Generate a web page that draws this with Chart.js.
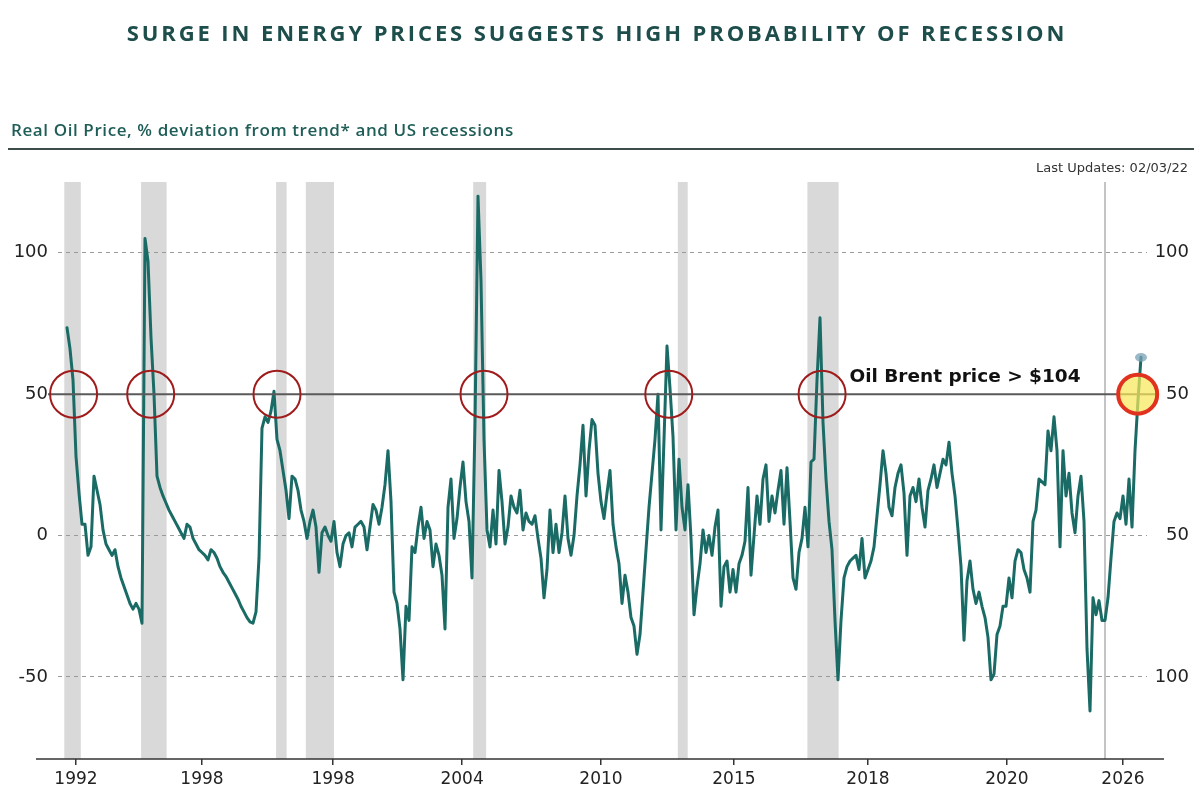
<!DOCTYPE html>
<html><head><meta charset="utf-8">
<script src="https://cdn.jsdelivr.net/npm/chart.js@4.4.1/dist/chart.umd.min.js"></script>
<style>html,body{margin:0;padding:0;background:#fff;}canvas{display:block}</style>
</head><body>
<canvas id="c" width="1200" height="800"></canvas>
<script>
const titleText = 'SURGE IN ENERGY PRICES SUGGESTS HIGH PROBABILITY OF RECESSION';
const subtitleText = 'Real Oil Price, % deviation from trend* and US recessions';
const updateText = 'Last Updates: 02/03/22';
const annotationText = 'Oil Brent price > $104';

// Real oil price, % deviation from trend (one value per period)
const oilDeviation = [
 73.5,66,55,28,15,4,4,-7,-4,21, 16,11,2,-3,-5,-7,-5,-11,-15,-18,
 -21,-24,-26,-24,-26,-31,105,97,70,50, 21,17,14,11.5,9,7,5,3,1,-1,
 4,3,-1,-3,-5,-6,-7,-8.6,-5,-6, -8,-11,-13,-14.5,-16.5,-18.5,-20.5,-22.5,-25,-27,
 -29,-30.5,-31,-27,-8,38,42,40,44,51, 34,30,23,16,6,21,20,16,9,5,
 -1,5,9,3,-13,1,3,0,-2,5, -6,-11,-3,0,1,-4,3,4,5,3,
 -5,3,11,9,4,10,18,30,12,-20, -24,-33,-51,-25,-30,-4,-6,3,10,-1,
 5,2,-11,-3,-7,-14,-33,10,20,-1, 6,17,26,12,5,-15,40,120,90,34,
 2,-4,9,-3,23,12,-3,3,14,10, 8,16,2,8,5,4,7,-1,-8,-22,
 -12,9,-6,4,-6,1,14,-1,-7,0, 14,25,39,14,30,41,39,22,12,6,
 15,23,4,-4,-10,-24,-14,-20,-29,-32, -42,-35,-20,-5,10,22,34,50,2,34,
 67,52,35,2,27,10,2,18,-1,-28, -18,-10,2,-6,0,-7,3,9,-25,-11,
 -9,-20,-12,-20,-10,-7,-2,17,-14,0, 14,4,20,25,5,14,8,16,23,4,
 24,5,-15,-19,-6,-1,10,-4,26,27, 55,77,40,20,5,-5,-30,-51,-30,-15,
 -11,-9,-8,-7,-12,-1,-15,-12,-9,-4, 7,18,30,22,10,7,17,22,25,15,
 -7,14,17,12,20,10,3,16,20,25, 17,22,27,25,33,22,14,2,-11,-37,
 -16,-9,-19,-24,-20,-25,-29,-36,-51,-49, -35,-32,-25,-25,-15,-22,-9,-5,-6,-12,
 -15,-20,5,9,20,19,18,37,30,42, 30,-4,30,14,22,8,1,14,21,5,
 -40,-62,-22,-28,-23,-30,-30,-22,-8,5, 8,6,14,4,20,3,30,48,63
];

const xTickPositions = [3, 45, 88.7, 131.7, 178, 222.3, 267, 313.3, 352];
const xTickLabels = ['1992','1998','1998','2004','2010','2015','2018','2020','2026'];
const yTickValues = [100, 50, 0, -50];
const leftTickLabels = ['100','50','0','-50'];
const rightTickLabels = ['100','50','50','100'];

// US recessions (period ranges)
const recessionStarts = [-0.9, 24.7, 69.7, 79.6, 135.4, 203.6, 246.8];
const recessionEnds   = [4.6, 33.2, 73.2, 89.0, 139.7, 206.9, 257.2];

const thresholdValue = 50;
const crossingPeriods = [2.2, 27.9, 70, 139, 200.6, 251.7];
const currentPeriod = 356.9;
const markerPeriod = 346;
const annotationPeriod = 260.8;

const points = oilDeviation.map((v, i) => ({x: i, y: v}));

const decor = {
  id: 'decor',
  beforeDraw(chart) {
    const {ctx, chartArea: a, scales: {x, y}} = chart;
    ctx.save();
    ctx.fillStyle = '#fff';
    ctx.fillRect(0, 0, chart.width, chart.height);
    ctx.fillStyle = '#d9d9d9';
    recessionStarts.forEach((s, k) => {
      const x0 = x.getPixelForValue(s), x1 = x.getPixelForValue(recessionEnds[k]);
      ctx.fillRect(x0, a.top, x1 - x0, a.bottom - a.top);
    });
    const mx = x.getPixelForValue(markerPeriod);
    ctx.strokeStyle = '#c4c4c4';
    ctx.lineWidth = 2;
    ctx.beginPath(); ctx.moveTo(mx, a.top); ctx.lineTo(mx, a.bottom); ctx.stroke();
    ctx.restore();
  },
  afterDatasetsDraw(chart) {
    const {ctx, chartArea: a, scales: {x, y}} = chart;
    ctx.save();
    const ty = y.getPixelForValue(thresholdValue);
    ctx.strokeStyle = '#5a5a5a';
    ctx.lineWidth = 2;
    ctx.beginPath(); ctx.moveTo(a.left - 10, ty); ctx.lineTo(a.right + 10, ty); ctx.stroke();

    ctx.strokeStyle = '#a01c1c';
    ctx.lineWidth = 2;
    crossingPeriods.forEach(p => {
      ctx.beginPath();
      ctx.arc(x.getPixelForValue(p), ty, 23.5, 0, Math.PI * 2);
      ctx.stroke();
    });

    const cx = x.getPixelForValue(currentPeriod);
    ctx.beginPath();
    ctx.arc(cx, ty, 19.5, 0, Math.PI * 2);
    ctx.fillStyle = 'rgba(246,232,90,0.72)';
    ctx.fill();
    ctx.lineWidth = 4;
    ctx.strokeStyle = '#e0321f';
    ctx.stroke();

    const last = oilDeviation.length - 1;
    ctx.beginPath();
    ctx.ellipse(x.getPixelForValue(last), y.getPixelForValue(oilDeviation[last]), 6, 4.3, 0, 0, Math.PI * 2);
    ctx.fillStyle = 'rgba(120,160,180,0.75)';
    ctx.fill();

    ctx.fillStyle = '#111';
    ctx.font = 'bold 18.5px "DejaVu Sans"';
    ctx.textAlign = 'left';
    ctx.textBaseline = 'alphabetic';
    ctx.fillText(annotationText, x.getPixelForValue(annotationPeriod), ty - 12);
    ctx.restore();
  },
  afterDraw(chart) {
    const {ctx, chartArea: a} = chart;
    ctx.save();
    ctx.strokeStyle = '#333';
    ctx.lineWidth = 1.5;
    ctx.beginPath(); ctx.moveTo(a.left - 22, a.bottom); ctx.lineTo(a.right + 17, a.bottom); ctx.stroke();

    ctx.fillStyle = '#1d4e4b';
    ctx.font = '700 22px "Open Sans"';
    ctx.letterSpacing = '2.9px';
    ctx.textAlign = 'center';
    ctx.textBaseline = 'alphabetic';
    ctx.fillText(titleText, 597, 41);

    ctx.fillStyle = '#1f5d57';
    ctx.font = '600 17px "Open Sans"';
    ctx.letterSpacing = '0.6px';
    ctx.textAlign = 'left';
    ctx.fillText(subtitleText, 11, 136);
    ctx.letterSpacing = '0px';

    ctx.strokeStyle = '#3d4d4b';
    ctx.lineWidth = 2;
    ctx.beginPath(); ctx.moveTo(8, 149); ctx.lineTo(1194, 149); ctx.stroke();

    ctx.fillStyle = '#333';
    ctx.font = '13px "DejaVu Sans"';
    ctx.textAlign = 'right';
    ctx.fillText(updateText, 1188, 172);
    ctx.restore();
  }
};

new Chart(document.getElementById('c'), {
  type: 'line',
  data: {datasets: [{data: points, borderColor: '#1a6b65', borderWidth: 3, pointRadius: 0,
    tension: 0, fill: false, borderJoinStyle: 'round', borderCapStyle: 'round', yAxisID: 'y'}]},
  options: {
    responsive: false, animation: false, devicePixelRatio: 1,
    layout: {padding: {top: 182, left: 0, right: 11, bottom: 0}},
    plugins: {legend: {display: false}, tooltip: {enabled: false}},
    scales: {
      x: {type: 'linear', min: -3, max: 360,
        afterBuildTicks: s => { s.ticks = xTickPositions.map(v => ({value: v})); },
        afterFit: s => { s.height = 41; },
        ticks: {autoSkip: false, maxRotation: 0, padding: 4, color: '#222',
          font: {family: 'DejaVu Sans', size: 17}, callback: (v, i) => xTickLabels[i]},
        grid: {display: true, drawOnChartArea: false, drawTicks: true, tickLength: 6,
          color: '#333', lineWidth: 1.5, tickWidth: 1.5},
        border: {display: false}},
      y: {position: 'left', min: -79, max: 125,
        afterBuildTicks: s => { s.ticks = yTickValues.map(v => ({value: v})); },
        afterFit: s => { s.width = 58; },
        ticks: {padding: 10, color: '#222', font: {family: 'DejaVu Sans', size: 18},
          callback: (v, i) => leftTickLabels[i]},
        grid: {color: '#9a9a9a', lineWidth: 1, drawTicks: false},
        border: {display: false, dash: [4, 4]}},
      y2: {position: 'right', min: -79, max: 125,
        afterBuildTicks: s => { s.ticks = yTickValues.map(v => ({value: v})); },
        afterFit: s => { s.width = 42; },
        ticks: {padding: 6, crossAlign: 'far', color: '#222', font: {family: 'DejaVu Sans', size: 18},
          callback: (v, i) => rightTickLabels[i]},
        grid: {display: false, drawTicks: false},
        border: {display: false}}
    }
  },
  plugins: [decor]
});
</script>
</body></html>
